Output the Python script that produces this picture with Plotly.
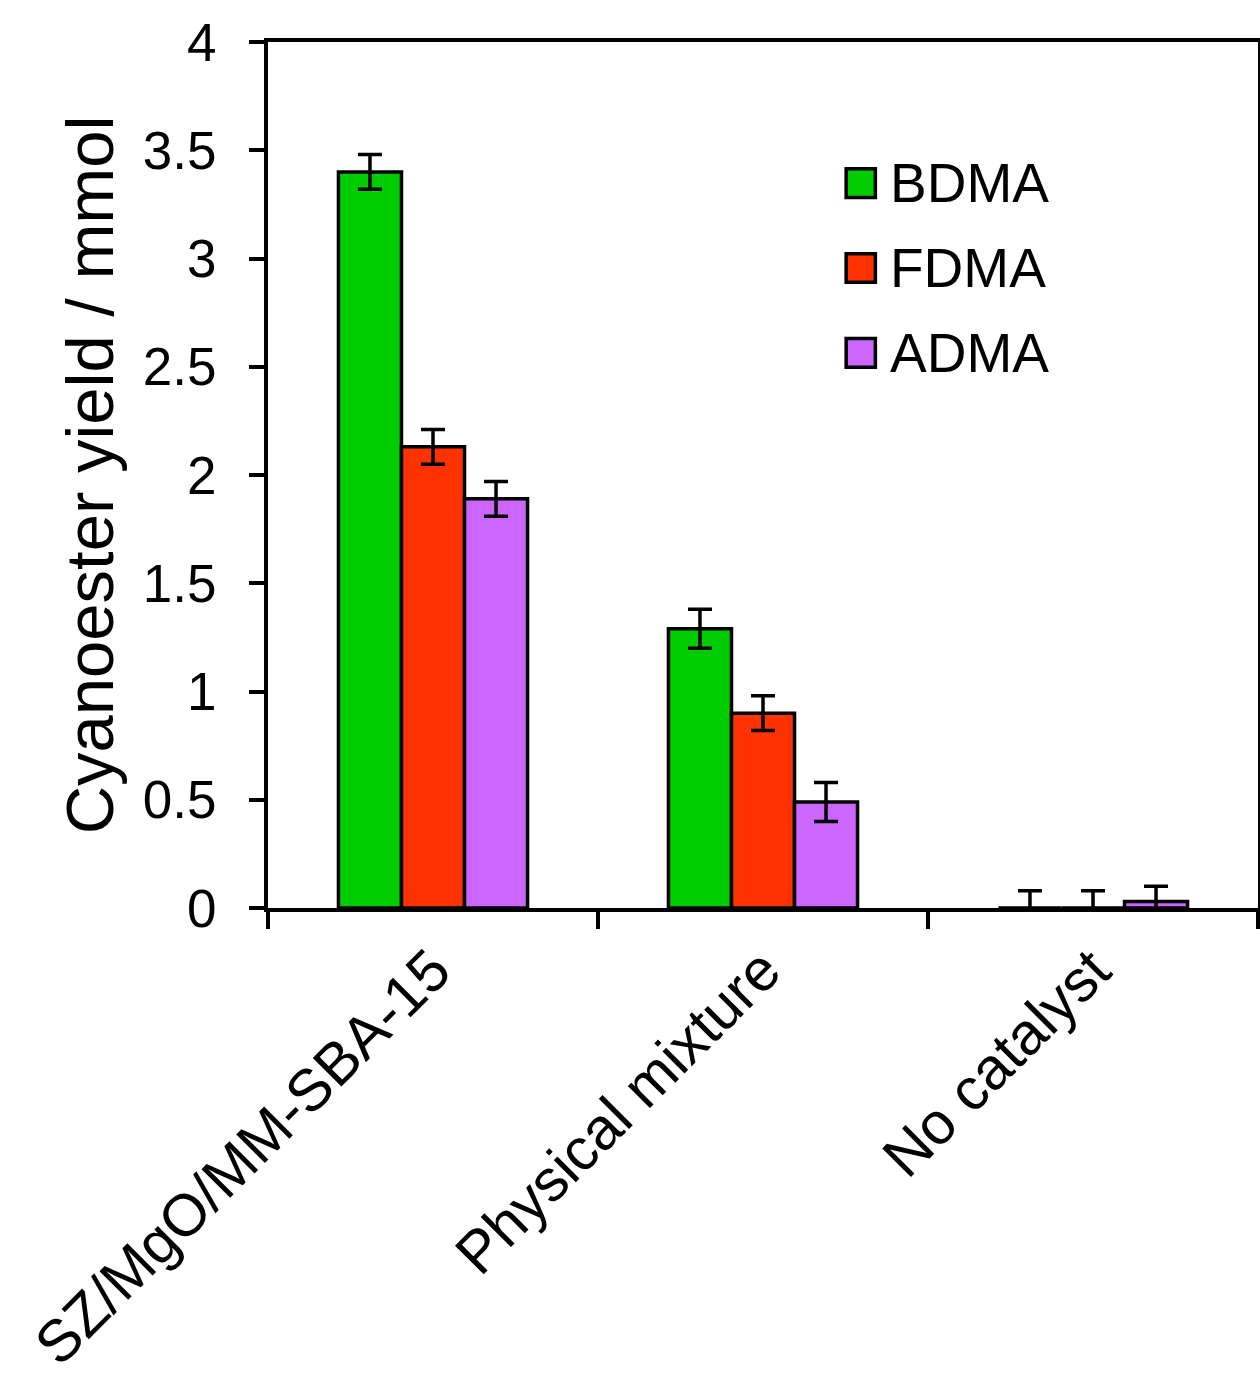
import plotly.graph_objects as go

categories = ["SZ/MgO/MM-SBA-15", "Physical mixture", "No catalyst"]
series_names = ["BDMA", "FDMA", "ADMA"]
series_colors = ["#00CC00", "#FF3300", "#CC66FF"]
bdma = [3.40, 1.29, 0.0]
fdma = [2.13, 0.90, 0.0]
adma = [1.89, 0.49, 0.03]
bdma_err = [0.08, 0.09, 0.08]
fdma_err = [0.08, 0.08, 0.08]
adma_err = [0.08, 0.09, 0.07]
y_ticks = [0, 0.5, 1, 1.5, 2, 2.5, 3, 3.5, 4]
y_tick_labels = ["0", "0.5", "1", "1.5", "2", "2.5", "3", "3.5", "4"]

values = [bdma, fdma, adma]
errors = [bdma_err, fdma_err, adma_err]

FONT = "Liberation Sans, Arial, sans-serif"

fig = go.Figure()
for name, color, vals, errs in zip(series_names, series_colors, values, errors):
    fig.add_trace(go.Bar(
        x=categories, y=vals, name=name,
        marker=dict(color=color, line=dict(color="black", width=3.5)),
        error_y=dict(type="data", array=errs, visible=True,
                     color="black", thickness=3.5, width=12),
        showlegend=False,
    ))

# custom legend (large square swatches)
leg_x0 = 0.584   # paper fraction of plot width
leg_y_top = 0.837
leg_dy = 0.098
for i, (name, color) in enumerate(zip(series_names, series_colors)):
    yc = leg_y_top - i * leg_dy
    fig.add_shape(type="rect", xref="paper", yref="paper",
                  x0=leg_x0, x1=leg_x0 + 0.0295,
                  y0=yc - 0.0165, y1=yc + 0.0165,
                  fillcolor=color, line=dict(color="black", width=3.5))
    fig.add_annotation(xref="paper", yref="paper", x=leg_x0 + 0.042, y=yc,
                       text=name, showarrow=False, xanchor="left", yanchor="middle",
                       font=dict(family=FONT, size=55, color="black"))

fig.update_layout(
    width=1260, height=1390,
    margin=dict(l=268, r=2, t=42, b=482, autoexpand=False),
    paper_bgcolor="white", plot_bgcolor="white",
    barmode="group", bargap=0.427, bargroupgap=0,
    font=dict(family=FONT, color="black"),
)
fig.update_xaxes(
    type="category", tickson="boundaries",
    showline=True, linecolor="black", linewidth=4, mirror=True,
    ticks="outside", ticklen=17, tickwidth=4, tickcolor="black",
    tickangle=-45, tickfont=dict(family=FONT, size=59, color="black"),
    showgrid=False, zeroline=False,
)
fig.update_yaxes(
    range=[0, 4], tickvals=y_ticks, ticktext=y_tick_labels,
    showline=True, linecolor="black", linewidth=4, mirror=True,
    ticks="outside", ticklen=15, tickwidth=4, tickcolor="black",
    tickfont=dict(family=FONT, size=53, color="black"),
    ticklabelstandoff=22,
    showgrid=False, zeroline=False,
    title=dict(text="Cyanoester yield / mmol", standoff=8,
               font=dict(family=FONT, size=67, color="black")),
)

fig.write_html("out.html")
